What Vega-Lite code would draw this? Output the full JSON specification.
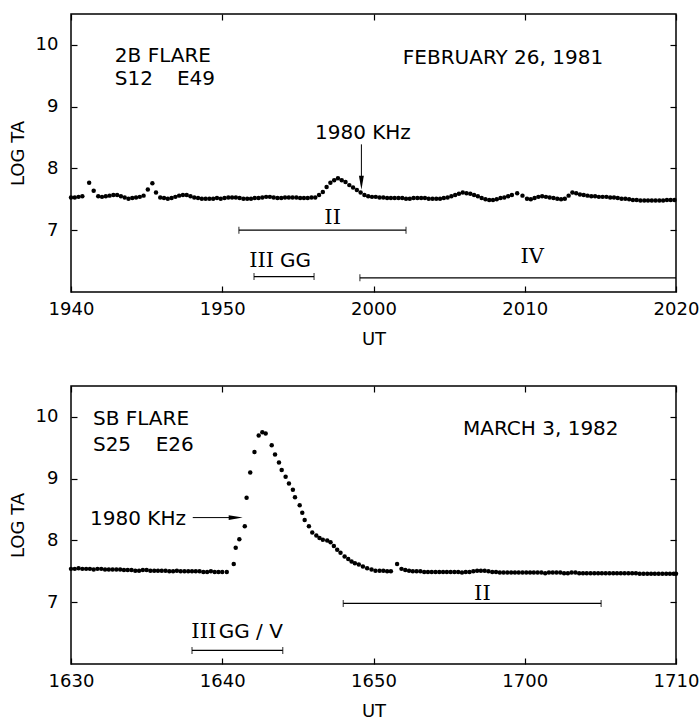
{
  "$schema": "https://vega.github.io/schema/vega-lite/v6.json",
  "background": "white",
  "padding": {"left": 8, "top": 12, "right": 2, "bottom": 2},
  "spacing": 35,
  "config": {
    "font": "DejaVu Sans",
    "view": {"stroke": "black", "strokeWidth": 1.5},
    "axis": {"domain": false, "grid": false, "tickColor": "black", "tickSize": -6, "tickWidth": 1.2, "labelColor": "black", "labelFontSize": 18, "labelFont": "DejaVu Sans", "titleFont": "DejaVu Sans", "titleColor": "black", "titleFontSize": 18, "titleFontWeight": "normal", "labelFlush": false},
    "text": {"font": "DejaVu Sans", "fontSize": 20, "color": "black", "baseline": "middle"}
  },
  "vconcat": [
    {
      "width": 605, "height": 278,
      "resolve": {"axis": {"x": "independent", "y": "independent"}},
      "layer": [
        {
          "data": {"values": [
            {"t":1180,"v":7.53},{"t":1180.25,"v":7.53},{"t":1180.5,"v":7.54},{"t":1180.75,"v":7.55},{"t":1181.2,"v":7.77},{"t":1181.5,"v":7.64},{"t":1181.8,"v":7.55},
            {"t":1182.05,"v":7.54},{"t":1182.3,"v":7.55},{"t":1182.55,"v":7.56},{"t":1182.8,"v":7.57},{"t":1183.05,"v":7.57},{"t":1183.3,"v":7.55},{"t":1183.55,"v":7.53},{"t":1183.8,"v":7.51},
            {"t":1184.05,"v":7.52},{"t":1184.3,"v":7.53},{"t":1184.55,"v":7.54},{"t":1184.8,"v":7.56},{"t":1185.08,"v":7.66},{"t":1185.38,"v":7.76},{"t":1185.62,"v":7.61},{"t":1185.9,"v":7.53},
            {"t":1186.15,"v":7.52},{"t":1186.4,"v":7.51},{"t":1186.65,"v":7.52},{"t":1186.9,"v":7.54},{"t":1187.15,"v":7.56},{"t":1187.4,"v":7.57},{"t":1187.65,"v":7.57},{"t":1187.9,"v":7.55},
            {"t":1188.15,"v":7.53},{"t":1188.4,"v":7.52},{"t":1188.65,"v":7.51},{"t":1188.9,"v":7.51},{"t":1189.15,"v":7.51},{"t":1189.4,"v":7.51},{"t":1189.65,"v":7.52},{"t":1189.9,"v":7.51},
            {"t":1190.15,"v":7.52},{"t":1190.4,"v":7.53},{"t":1190.65,"v":7.53},{"t":1190.9,"v":7.53},{"t":1191.15,"v":7.52},{"t":1191.4,"v":7.51},{"t":1191.65,"v":7.51},{"t":1191.9,"v":7.51},
            {"t":1192.15,"v":7.52},{"t":1192.4,"v":7.52},{"t":1192.65,"v":7.53},{"t":1192.9,"v":7.54},{"t":1193.15,"v":7.54},{"t":1193.4,"v":7.53},{"t":1193.65,"v":7.52},{"t":1193.9,"v":7.52},
            {"t":1194.15,"v":7.53},{"t":1194.4,"v":7.53},{"t":1194.65,"v":7.53},{"t":1194.9,"v":7.53},{"t":1195.15,"v":7.52},{"t":1195.4,"v":7.52},{"t":1195.65,"v":7.52},{"t":1195.9,"v":7.53},
            {"t":1196.15,"v":7.53},{"t":1196.4,"v":7.57},{"t":1196.65,"v":7.62},{"t":1196.9,"v":7.7},{"t":1197.15,"v":7.77},{"t":1197.4,"v":7.81},{"t":1197.65,"v":7.84},{"t":1197.9,"v":7.81},
            {"t":1198.15,"v":7.78},{"t":1198.4,"v":7.73},{"t":1198.65,"v":7.69},{"t":1198.9,"v":7.65},{"t":1199.15,"v":7.61},{"t":1199.4,"v":7.57},{"t":1199.65,"v":7.55},{"t":1199.9,"v":7.54},
            {"t":1200.15,"v":7.54},{"t":1200.4,"v":7.53},{"t":1200.65,"v":7.53},{"t":1200.9,"v":7.52},{"t":1201.15,"v":7.52},{"t":1201.4,"v":7.52},{"t":1201.65,"v":7.52},{"t":1201.9,"v":7.52},
            {"t":1202.15,"v":7.51},{"t":1202.4,"v":7.51},{"t":1202.65,"v":7.52},{"t":1202.9,"v":7.52},{"t":1203.15,"v":7.52},{"t":1203.4,"v":7.52},{"t":1203.65,"v":7.51},{"t":1203.9,"v":7.51},
            {"t":1204.15,"v":7.51},{"t":1204.4,"v":7.51},{"t":1204.65,"v":7.52},{"t":1204.9,"v":7.53},{"t":1205.15,"v":7.55},{"t":1205.4,"v":7.57},{"t":1205.65,"v":7.59},{"t":1205.9,"v":7.61},
            {"t":1206.15,"v":7.6},{"t":1206.4,"v":7.59},{"t":1206.65,"v":7.57},{"t":1206.9,"v":7.55},{"t":1207.15,"v":7.52},{"t":1207.4,"v":7.5},{"t":1207.65,"v":7.49},{"t":1207.9,"v":7.49},
            {"t":1208.15,"v":7.5},{"t":1208.4,"v":7.52},{"t":1208.65,"v":7.53},{"t":1208.9,"v":7.55},{"t":1209.15,"v":7.57},{"t":1209.5,"v":7.6},{"t":1209.85,"v":7.56},{"t":1210.15,"v":7.51},
            {"t":1210.4,"v":7.5},{"t":1210.65,"v":7.52},{"t":1210.9,"v":7.54},{"t":1211.15,"v":7.55},{"t":1211.4,"v":7.54},{"t":1211.65,"v":7.53},{"t":1211.9,"v":7.52},{"t":1212.15,"v":7.51},
            {"t":1212.4,"v":7.5},{"t":1212.65,"v":7.51},{"t":1212.9,"v":7.56},{"t":1213.15,"v":7.61},{"t":1213.4,"v":7.6},{"t":1213.65,"v":7.58},{"t":1213.9,"v":7.57},{"t":1214.15,"v":7.56},
            {"t":1214.4,"v":7.55},{"t":1214.65,"v":7.55},{"t":1214.9,"v":7.54},{"t":1215.15,"v":7.54},{"t":1215.4,"v":7.54},{"t":1215.65,"v":7.53},{"t":1215.9,"v":7.53},{"t":1216.15,"v":7.52},
            {"t":1216.4,"v":7.51},{"t":1216.65,"v":7.51},{"t":1216.9,"v":7.5},{"t":1217.15,"v":7.49},{"t":1217.4,"v":7.49},{"t":1217.65,"v":7.48},{"t":1217.9,"v":7.48},{"t":1218.15,"v":7.48},
            {"t":1218.4,"v":7.48},{"t":1218.65,"v":7.48},{"t":1218.9,"v":7.48},{"t":1219.15,"v":7.48},{"t":1219.4,"v":7.49},{"t":1219.65,"v":7.49},{"t":1219.9,"v":7.49}
          ]},
          "mark": {"type": "circle", "size": 20, "color": "black", "opacity": 1},
          "encoding": {
            "x": {"field": "t", "type": "quantitative", "scale": {"domain": [1180, 1220], "nice": false, "zero": false},
                  "axis": {"orient": "bottom", "values": [1180, 1190, 1200, 1210, 1220], "labelExpr": "'' + (floor(datum.value / 60) * 100 + datum.value % 60)", "title": "UT", "labelPadding": 14, "titlePadding": 12}},
            "y": {"field": "v", "type": "quantitative", "scale": {"domain": [6, 10.5], "nice": false, "zero": false},
                  "axis": {"orient": "left", "values": [7, 8, 9, 10], "title": "LOG TA", "labelPadding": 19, "titlePadding": 8}}
          }
        },
        {
          "data": {"values": [{"t1":1191.1,"t2":1202.15,"v":7.0},{"t1":1192.1,"t2":1196.07,"v":6.25},{"t1":1199.1,"t2":1220,"v":6.23}]},
          "mark": {"type": "rule", "color": "black", "strokeWidth": 1.2},
          "encoding": {
            "x": {"field": "t1", "type": "quantitative", "axis": {"orient": "top", "values": [1180, 1190, 1200, 1210, 1220], "labels": false, "title": null}},
            "x2": {"field": "t2"},
            "y": {"field": "v", "type": "quantitative", "axis": {"orient": "right", "values": [7, 8, 9, 10], "labels": false, "title": null}}
          }
        },
        {
          "data": {"values": [{"t":1191.1,"v":7.0},{"t":1202.15,"v":7.0},{"t":1192.1,"v":6.25},{"t":1196.07,"v":6.25},{"t":1199.1,"v":6.23}]},
          "mark": {"type": "tick", "orient": "vertical", "size": 7, "thickness": 1.2, "color": "black"},
          "encoding": {
            "x": {"field": "t", "type": "quantitative", "axis": null},
            "y": {"field": "v", "type": "quantitative", "axis": null}
          }
        },
        {
          "data": {"values": [{"t":1182.9,"v":9.82,"s":"2B FLARE"},{"t":1182.9,"v":9.44,"s":"S12"},{"t":1187.0,"v":9.44,"s":"E49"},{"t":1193.82,"v":6.5,"s":"GG"}]},
          "mark": {"type": "text", "align": "left"},
          "encoding": {
            "x": {"field": "t", "type": "quantitative", "axis": null},
            "y": {"field": "v", "type": "quantitative", "axis": null},
            "text": {"field": "s"}
          }
        },
        {
          "data": {"values": [{"t":1208.56,"v":9.78,"s":"FEBRUARY 26, 1981"},{"t":1199.3,"v":8.58,"s":"1980 KHz"}]},
          "mark": {"type": "text", "align": "center"},
          "encoding": {
            "x": {"field": "t", "type": "quantitative", "axis": null},
            "y": {"field": "v", "type": "quantitative", "axis": null},
            "text": {"field": "s"}
          }
        },
        {
          "data": {"values": [{"t":1197.3,"v":7.19,"s":"II"},{"t":1192.6,"v":6.5,"s":"III"},{"t":1210.5,"v":6.57,"s":"IV"}]},
          "mark": {"type": "text", "align": "center", "font": "DejaVu Serif", "fontSize": 21},
          "encoding": {
            "x": {"field": "t", "type": "quantitative", "axis": null},
            "y": {"field": "v", "type": "quantitative", "axis": null},
            "text": {"field": "s"}
          }
        },
        {
          "data": {"values": [{"t":1199.2,"v":8.39,"v2":7.74}]},
          "mark": {"type": "rule", "color": "black", "strokeWidth": 1},
          "encoding": {
            "x": {"field": "t", "type": "quantitative", "axis": null},
            "y": {"field": "v", "type": "quantitative", "axis": null},
            "y2": {"field": "v2"}
          }
        },
        {
          "data": {"values": [{"t":1199.2,"v":7.77}]},
          "mark": {"type": "point", "shape": "M-0.35,-1L0.35,-1L0,1Z", "size": 196, "filled": true, "color": "black", "opacity": 1},
          "encoding": {
            "x": {"field": "t", "type": "quantitative", "axis": null},
            "y": {"field": "v", "type": "quantitative", "axis": null}
          }
        }
      ]
    },
    {
      "width": 605, "height": 278,
      "resolve": {"axis": {"x": "independent", "y": "independent"}},
      "layer": [
        {
          "data": {"values": [
            {"t":990,"v":7.54},{"t":990.25,"v":7.54},{"t":990.5,"v":7.55},{"t":990.75,"v":7.54},{"t":991,"v":7.54},{"t":991.25,"v":7.54},{"t":991.5,"v":7.53},{"t":991.75,"v":7.54},
            {"t":992,"v":7.54},{"t":992.25,"v":7.53},{"t":992.5,"v":7.53},{"t":992.75,"v":7.53},{"t":993,"v":7.53},{"t":993.25,"v":7.53},{"t":993.5,"v":7.52},{"t":993.75,"v":7.52},
            {"t":994,"v":7.52},{"t":994.25,"v":7.51},{"t":994.5,"v":7.51},{"t":994.75,"v":7.52},{"t":995,"v":7.52},{"t":995.25,"v":7.51},{"t":995.5,"v":7.51},{"t":995.75,"v":7.51},
            {"t":996,"v":7.51},{"t":996.25,"v":7.51},{"t":996.5,"v":7.5},{"t":996.75,"v":7.5},{"t":997,"v":7.51},{"t":997.25,"v":7.5},{"t":997.5,"v":7.5},{"t":997.75,"v":7.5},
            {"t":998,"v":7.5},{"t":998.25,"v":7.5},{"t":998.5,"v":7.5},{"t":998.75,"v":7.49},{"t":999,"v":7.49},{"t":999.25,"v":7.5},{"t":999.5,"v":7.49},{"t":999.75,"v":7.49},
            {"t":1000,"v":7.49},{"t":1000.3,"v":7.49},
            {"t":1000.76,"v":7.62},{"t":1000.89,"v":7.88},{"t":1001.13,"v":8.02},{"t":1001.49,"v":8.23},{"t":1001.61,"v":8.69},{"t":1001.85,"v":9.1},{"t":1002.13,"v":9.43},{"t":1002.41,"v":9.7},
            {"t":1002.65,"v":9.75},{"t":1002.87,"v":9.73},{"t":1003.27,"v":9.54},{"t":1003.49,"v":9.39},{"t":1003.75,"v":9.26},{"t":1003.93,"v":9.14},{"t":1004.19,"v":9.03},{"t":1004.41,"v":8.92},
            {"t":1004.67,"v":8.82},{"t":1004.81,"v":8.7},{"t":1005.12,"v":8.57},{"t":1005.29,"v":8.45},{"t":1005.45,"v":8.33},{"t":1005.73,"v":8.23},{"t":1005.95,"v":8.13},{"t":1006.22,"v":8.08},
            {"t":1006.43,"v":8.04},{"t":1006.65,"v":8.01},{"t":1006.94,"v":8.0},{"t":1007.16,"v":7.97},{"t":1007.38,"v":7.91},{"t":1007.6,"v":7.85},{"t":1007.82,"v":7.8},{"t":1008.09,"v":7.74},
            {"t":1008.33,"v":7.7},{"t":1008.55,"v":7.66},{"t":1008.77,"v":7.63},{"t":1009.03,"v":7.61},{"t":1009.3,"v":7.58},{"t":1009.58,"v":7.55},{"t":1009.87,"v":7.53},{"t":1010.13,"v":7.51},
            {"t":1010.4,"v":7.51},{"t":1010.65,"v":7.51},{"t":1010.9,"v":7.5},{"t":1011.15,"v":7.5},{"t":1011.56,"v":7.62},{"t":1011.85,"v":7.54},{"t":1012.1,"v":7.52},{"t":1012.35,"v":7.51},
            {"t":1012.6,"v":7.5},{"t":1012.85,"v":7.5},{"t":1013.1,"v":7.5},{"t":1013.35,"v":7.49},{"t":1013.6,"v":7.49},{"t":1013.85,"v":7.49},{"t":1014.1,"v":7.49},{"t":1014.35,"v":7.49},
            {"t":1014.6,"v":7.49},{"t":1014.85,"v":7.49},{"t":1015.1,"v":7.49},{"t":1015.35,"v":7.49},{"t":1015.6,"v":7.49},{"t":1015.85,"v":7.48},{"t":1016.1,"v":7.49},{"t":1016.35,"v":7.49},
            {"t":1016.6,"v":7.5},{"t":1016.85,"v":7.51},{"t":1017.1,"v":7.51},{"t":1017.35,"v":7.51},{"t":1017.6,"v":7.5},{"t":1017.85,"v":7.49},{"t":1018.1,"v":7.49},{"t":1018.35,"v":7.48},
            {"t":1018.6,"v":7.48},{"t":1018.85,"v":7.48},{"t":1019.1,"v":7.48},{"t":1019.35,"v":7.48},{"t":1019.6,"v":7.48},{"t":1019.85,"v":7.48},{"t":1020.1,"v":7.48},{"t":1020.35,"v":7.48},
            {"t":1020.6,"v":7.48},{"t":1020.85,"v":7.48},{"t":1021.1,"v":7.48},{"t":1021.35,"v":7.47},{"t":1021.6,"v":7.48},{"t":1021.85,"v":7.48},{"t":1022.1,"v":7.48},{"t":1022.35,"v":7.48},
            {"t":1022.6,"v":7.47},{"t":1022.85,"v":7.47},{"t":1023.1,"v":7.48},{"t":1023.35,"v":7.48},{"t":1023.6,"v":7.47},{"t":1023.85,"v":7.47},{"t":1024.1,"v":7.47},{"t":1024.35,"v":7.47},
            {"t":1024.6,"v":7.47},{"t":1024.85,"v":7.47},{"t":1025.1,"v":7.47},{"t":1025.35,"v":7.47},{"t":1025.6,"v":7.47},{"t":1025.85,"v":7.47},{"t":1026.1,"v":7.47},{"t":1026.35,"v":7.47},
            {"t":1026.6,"v":7.47},{"t":1026.85,"v":7.47},{"t":1027.1,"v":7.47},{"t":1027.35,"v":7.47},{"t":1027.6,"v":7.46},{"t":1027.85,"v":7.46},{"t":1028.1,"v":7.46},{"t":1028.35,"v":7.46},
            {"t":1028.6,"v":7.46},{"t":1028.85,"v":7.46},{"t":1029.1,"v":7.46},{"t":1029.35,"v":7.46},{"t":1029.6,"v":7.46},{"t":1029.85,"v":7.46},{"t":1030,"v":7.46}
          ]},
          "mark": {"type": "circle", "size": 20, "color": "black", "opacity": 1},
          "encoding": {
            "x": {"field": "t", "type": "quantitative", "scale": {"domain": [990, 1030], "nice": false, "zero": false},
                  "axis": {"orient": "bottom", "values": [990, 1000, 1010, 1020, 1030], "labelExpr": "'' + (floor(datum.value / 60) * 100 + datum.value % 60)", "title": "UT", "labelPadding": 14, "titlePadding": 12}},
            "y": {"field": "v", "type": "quantitative", "scale": {"domain": [6, 10.5], "nice": false, "zero": false},
                  "axis": {"orient": "left", "values": [7, 8, 9, 10], "title": "LOG TA", "labelPadding": 19, "titlePadding": 8}}
          }
        },
        {
          "data": {"values": [{"t1":998.0,"t2":1004.0,"v":6.22},{"t1":1008.0,"t2":1025.05,"v":6.98}]},
          "mark": {"type": "rule", "color": "black", "strokeWidth": 1.2},
          "encoding": {
            "x": {"field": "t1", "type": "quantitative", "axis": {"orient": "top", "values": [990, 1000, 1010, 1020, 1030], "labels": false, "title": null}},
            "x2": {"field": "t2"},
            "y": {"field": "v", "type": "quantitative", "axis": {"orient": "right", "values": [7, 8, 9, 10], "labels": false, "title": null}}
          }
        },
        {
          "data": {"values": [{"t":998.0,"v":6.22},{"t":1004.0,"v":6.22},{"t":1008.0,"v":6.98},{"t":1025.05,"v":6.98}]},
          "mark": {"type": "tick", "orient": "vertical", "size": 7, "thickness": 1.2, "color": "black"},
          "encoding": {
            "x": {"field": "t", "type": "quantitative", "axis": null},
            "y": {"field": "v", "type": "quantitative", "axis": null}
          }
        },
        {
          "data": {"values": [{"t":991.45,"v":9.97,"s":"SB FLARE"},{"t":991.45,"v":9.55,"s":"S25"},{"t":995.6,"v":9.55,"s":"E26"},{"t":999.77,"v":6.52,"s":"GG / V"}]},
          "mark": {"type": "text", "align": "left"},
          "encoding": {
            "x": {"field": "t", "type": "quantitative", "axis": null},
            "y": {"field": "v", "type": "quantitative", "axis": null},
            "text": {"field": "s"}
          }
        },
        {
          "data": {"values": [{"t":997.6,"v":8.34,"s":"1980 KHz"}]},
          "mark": {"type": "text", "align": "right"},
          "encoding": {
            "x": {"field": "t", "type": "quantitative", "axis": null},
            "y": {"field": "v", "type": "quantitative", "axis": null},
            "text": {"field": "s"}
          }
        },
        {
          "data": {"values": [{"t":1021.06,"v":9.8,"s":"MARCH 3, 1982"}]},
          "mark": {"type": "text", "align": "center"},
          "encoding": {
            "x": {"field": "t", "type": "quantitative", "axis": null},
            "y": {"field": "v", "type": "quantitative", "axis": null},
            "text": {"field": "s"}
          }
        },
        {
          "data": {"values": [{"t":998.78,"v":6.52,"s":"III"},{"t":1017.2,"v":7.13,"s":"II"}]},
          "mark": {"type": "text", "align": "center", "font": "DejaVu Serif", "fontSize": 21},
          "encoding": {
            "x": {"field": "t", "type": "quantitative", "axis": null},
            "y": {"field": "v", "type": "quantitative", "axis": null},
            "text": {"field": "s"}
          }
        },
        {
          "data": {"values": [{"t":998.05,"t2":1000.95,"v":8.37}]},
          "mark": {"type": "rule", "color": "black", "strokeWidth": 1},
          "encoding": {
            "x": {"field": "t", "type": "quantitative", "axis": null},
            "x2": {"field": "t2"},
            "y": {"field": "v", "type": "quantitative", "axis": null}
          }
        },
        {
          "data": {"values": [{"t":1000.89,"v":8.37}]},
          "mark": {"type": "point", "shape": "M-1,-0.35L1,0L-1,0.35Z", "size": 196, "filled": true, "color": "black", "opacity": 1},
          "encoding": {
            "x": {"field": "t", "type": "quantitative", "axis": null},
            "y": {"field": "v", "type": "quantitative", "axis": null}
          }
        }
      ]
    }
  ]
}
